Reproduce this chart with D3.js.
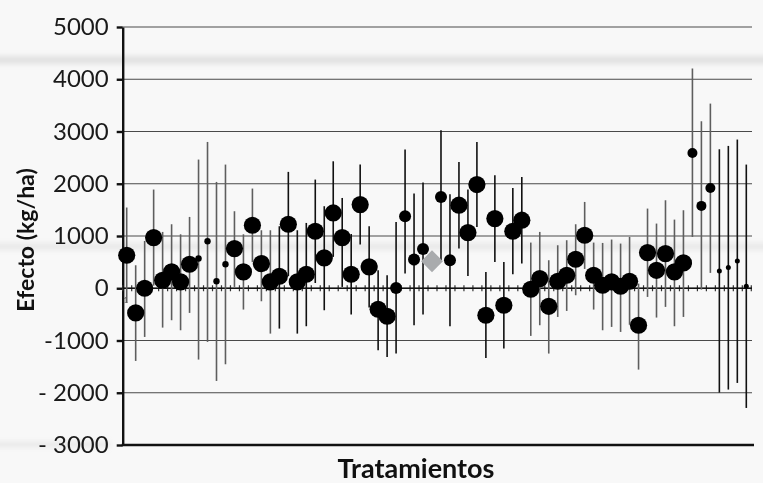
<!DOCTYPE html>
<html>
<head>
<meta charset="utf-8">
<script src="https://cdn.jsdelivr.net/npm/d3@7"></script>
<style>
  html, body { margin: 0; padding: 0; background: #f8f8f8; }
  svg { display: block; }
</style>
</head>
<body>
<svg id="chart" width="763" height="483"></svg>
<script>
// ---- data ----
const treatments = d3.range(1, 71);
const effect = [632,-472,0,970,153,313,121,459,568,900,134,459,759,313,1206,472,121,230,1225,121,
  268,1091,580,1441,970,268,1601,408,-402,-536,6,1378,549,752,517,1748,536,1589,1066,1985,
  -517,1334,-325,1091,1302,-19,185,-345,134,249,555,1014,249,57,121,38,134,-708,683,344,
  664,313,485,2590,1576,1920,332,396,523,38];
const upper = [1545,440,905,1889,1078,1225,1033,1365,2463,2800,2035,2367,1474,1033,1908,1110,1110,1187,2227,1110,
  1250,2080,1570,2430,1728,1040,2367,1187,344,249,1269,2654,1812,2023,null,3024,1799,2418,1889,2800,
  313,2163,504,1920,2131,874,1078,536,823,919,1225,1652,874,867,932,855,982,89,1525,1238,
  1684,1314,1493,4206,3196,3534,2660,2724,2846,2367];
const lower = [-280,-1391,-932,50,-753,-612,-804,-472,-1365,-1027,-1774,-1455,25,-408,500,-249,-868,-772,230,-868,
  -727,100,-421,600,25,-504,836,-370,-1187,-1314,-1250,281,-708,-504,null,536,-727,759,236,1174,
  -1334,504,-1155,268,472,-912,-708,-1250,-549,-434,-134,370,-408,-804,-740,-836,-700,-1557,-166,-561,
  -357,-727,-549,982,-25,294,-1997,-1939,-1812,-2291];
// number of sites class per treatment (drives marker size)
const sitesClass = ["L","L","L","L","L","L","L","L","S","S","S","S","L","L","L","L","L","L","L","L",
  "L","L","L","L","L","L","L","L","L","L","M","M","M","M","ref","M","M","L","L","L",
  "L","L","L","L","L","L","L","L","L","L","L","L","L","L","L","L","L","L","L","L",
  "L","L","L","m","m","m","XS","XS","XS","XS"];
// trial group per treatment (drives interval colour)
const trialGroup = ["a","a","a","a","a","a","a","a","a","a","a","a","a","a","a","a","a","b","b","b",
  "b","b","b","b","b","b","b","b","b","b","b","b","b","b","b","b","b","b","b","b",
  "b","b","b","b","b","a","a","a","a","a","a","a","a","a","a","a","a","a","a","a",
  "a","a","a","a","a","a","b","b","b","b"];
const yTicks = [-3000,-2000,-1000,0,1000,2000,3000,4000,5000];
const yTickLabels = ["- 3000","- 2000","-1000","0","1000","2000","3000","4000","5000"];
const yTitle = "Efecto (kg/ha)";
const xTitle = "Tratamientos";

// ---- layout ----
const svg = d3.select("#chart");
const W = 763, H = 483;
const mLeft = 122.7, mRight = 752, mTop = 27, mBottom = 445;

const x = d3.scaleLinear().domain([1, 70]).range([126.7, 746.3]);
const y = d3.scaleLinear().domain([-3000, 5000]).range([mBottom, mTop]);
const rScale = d3.scaleOrdinal().domain(["L","M","m","S","XS"]).range([8.6, 6, 5, 3.2, 2.5]);
const cScale = d3.scaleOrdinal().domain(["a","b"]).range(["#5e5e5e", "#111111"]);

// background with soft streaks
const defs = svg.append("defs");
const blur = defs.append("filter").attr("id","blur").attr("x","-10%").attr("y","-200%").attr("width","120%").attr("height","500%");
blur.append("feGaussianBlur").attr("stdDeviation", 2.5);
svg.append("rect").attr("width", W).attr("height", H).attr("fill", "#f8f8f8");
const streaks = svg.append("g").attr("filter","url(#blur)");
streaks.append("rect").attr("x",-10).attr("y",56).attr("width",W+20).attr("height",8).attr("fill","#dcdcdc").attr("opacity",0.8);
streaks.append("rect").attr("x",-10).attr("y",243).attr("width",W+20).attr("height",7).attr("fill","#e2e2e2").attr("opacity",0.7);
streaks.append("rect").attr("x",-10).attr("y",442).attr("width",120).attr("height",5).attr("fill","#e0e0e0").attr("opacity",0.7);

// gridlines
svg.append("g").selectAll("line").data(yTicks.filter(v => v !== -3000)).join("line")
  .attr("x1", mLeft).attr("x2", mRight)
  .attr("y1", d => y(d)).attr("y2", d => y(d))
  .attr("stroke", "#4a4a4a").attr("stroke-width", 1.1);

// y axis
const yAxis = d3.axisLeft(y).tickValues(yTicks).tickSize(6).tickSizeOuter(0)
  .tickFormat((d, i) => yTickLabels[i]);
const gy = svg.append("g").attr("transform", `translate(${mLeft},0)`).call(yAxis);
gy.select(".domain").attr("stroke", "#111").attr("stroke-width", 2.4);
gy.selectAll(".tick line").attr("stroke", "#111").attr("stroke-width", 2.4);
gy.selectAll(".tick text")
  .attr("x", -14)
  .attr("fill", "#1a1a1a")
  .style("font-family", "Lato, 'Open Sans', sans-serif")
  .style("font-size", "24px");

// bottom axis line
svg.append("line").attr("x1", mLeft - 1).attr("x2", mRight + 2)
  .attr("y1", mBottom).attr("y2", mBottom)
  .attr("stroke", "#111").attr("stroke-width", 2.6);

// zero axis with ticks at treatment boundaries
const zeroAxis = d3.axisBottom(x).tickValues(d3.range(0.5, 71, 1)).tickSize(3).tickSizeOuter(0).tickFormat("");
const gz = svg.append("g").attr("transform", `translate(0,${y(0)})`).call(zeroAxis);
gz.select(".domain").remove();
gz.selectAll(".tick line").attr("y1", -3).attr("y2", 3).attr("stroke", "#333").attr("stroke-width", 1.2);
svg.append("line").attr("x1", mLeft).attr("x2", mRight).attr("y1", y(0)).attr("y2", y(0))
  .attr("stroke", "#111").attr("stroke-width", 1.6);
svg.append("text").attr("x", x(1) - 1).attr("y", y(0) + 15)
  .attr("text-anchor", "middle").attr("fill", "#555")
  .style("font-family", "Lato, sans-serif").style("font-size", "8px").text(treatments[0]);

// data table
const rows = treatments.map((t, i) => ({ t, v: effect[i], hi: upper[i], lo: lower[i], s: sitesClass[i], g: trialGroup[i] }));

// error bars
svg.append("g").selectAll("line").data(rows.filter(d => d.hi !== null)).join("line")
  .attr("x1", d => x(d.t)).attr("x2", d => x(d.t))
  .attr("y1", d => y(d.hi)).attr("y2", d => y(d.lo))
  .attr("stroke", d => cScale(d.g)).attr("stroke-width", 1.6);

// points
svg.append("g").selectAll("circle").data(rows.filter(d => d.s !== "ref")).join("circle")
  .attr("cx", d => x(d.t)).attr("cy", d => y(d.v))
  .attr("r", d => rScale(d.s)).attr("fill", "#000");

// reference (diamond)
svg.append("g").selectAll("path").data(rows.filter(d => d.s === "ref")).join("path")
  .attr("transform", d => `translate(${x(d.t)},${y(d.v)}) rotate(45)`)
  .attr("d", d3.symbol().type(d3.symbolSquare).size(240))
  .attr("fill", "#a9abad");

// titles
svg.append("text")
  .attr("transform", `translate(34,${(mTop + mBottom) / 2 + 4}) rotate(-90)`)
  .attr("text-anchor", "middle")
  .attr("fill", "#111")
  .style("font-family", "Lato, sans-serif").style("font-weight", "bold").style("font-size", "23px")
  .text(yTitle);
svg.append("text")
  .attr("x", 416).attr("y", 478)
  .attr("text-anchor", "middle")
  .attr("fill", "#111")
  .style("font-family", "Lato, sans-serif").style("font-weight", "bold").style("font-size", "27px")
  .text(xTitle);
</script>
</body>
</html>
